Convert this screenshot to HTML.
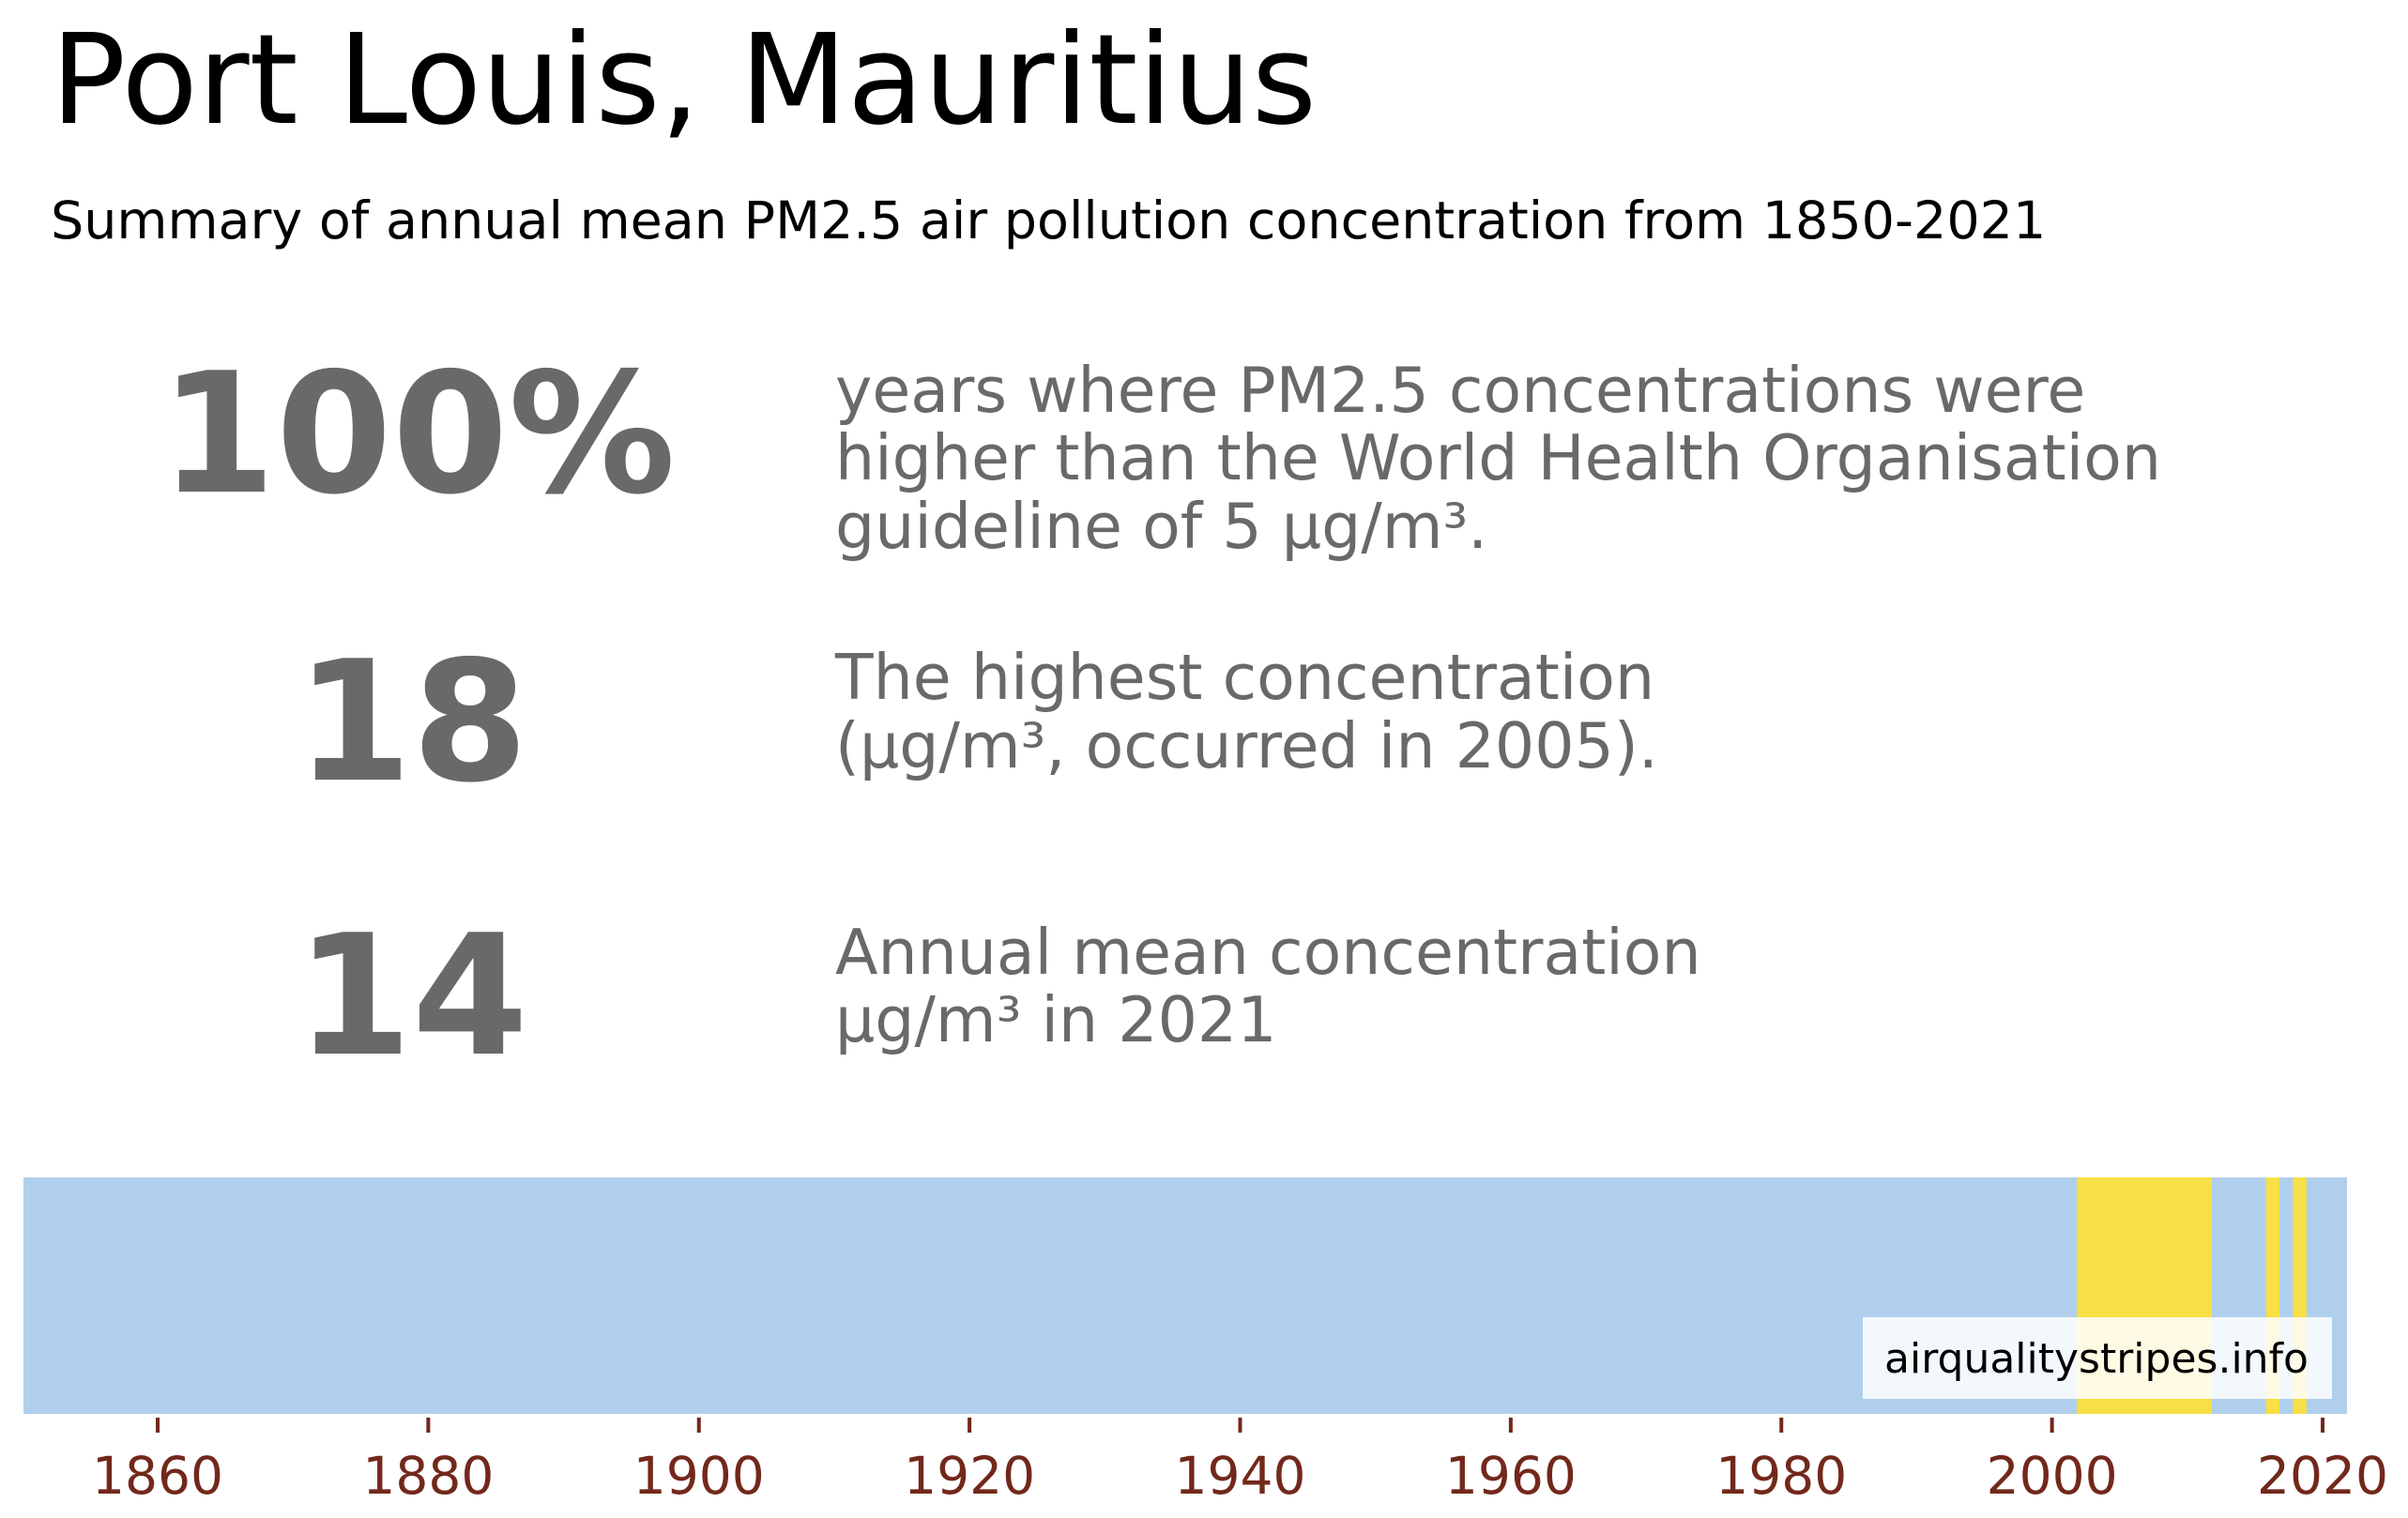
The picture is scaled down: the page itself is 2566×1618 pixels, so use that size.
<!DOCTYPE html>
<html><head><meta charset="utf-8"><style>
html,body{margin:0;padding:0;background:#fff;}
svg{display:block;font-family:"DejaVu Sans","Liberation Sans",sans-serif;}
</style></head><body>
<svg id="chart" width="2566" height="1618" viewBox="0 0 2566 1618">
<text x="54" y="131" font-size="133" fill="#000">Port Louis, Mauritius</text>
<text x="54" y="254" font-size="55.5" fill="#000">Summary of annual mean PM2.5 air pollution concentration from 1850-2021</text>
<g fill="#696969" font-weight="bold" font-size="178" text-anchor="middle">
<text x="445" y="524">100%</text>
<text x="439" y="831">18</text>
<text x="439" y="1123">14</text>
</g>
<g fill="#696969" font-size="66.5">
<text x="890" y="439">years where PM2.5 concentrations were</text>
<text x="890" y="511">higher than the World Health Organisation</text>
<text x="890" y="584">guideline of 5 µg/m³.</text>
<text x="890" y="745">The highest concentration</text>
<text x="890" y="818">(µg/m³, occurred in 2005).</text>
<text x="890" y="1038">Annual mean concentration</text>
<text x="890" y="1110">µg/m³ in 2021</text>
</g>
<g id="stripes"></g>
<g id="ticks"></g>
<rect x="1985" y="1404" width="500" height="87" fill="#fff" fill-opacity="0.85"/>
<text x="2234" y="1463" font-size="44" fill="#000" text-anchor="middle">airqualitystripes.info</text>
</svg>
<script>
const startYear = 1850;
const endYear = 2021;
const yellowYears = [2002,2003,2004,2005,2006,2007,2008,2009,2010,2011,2016,2018];
const yellowValues = [16,16,17,18,17,17,16,16,16,15,15,15];
const baseValue = 13;
const tickYears = [1860,1880,1900,1920,1940,1960,1980,2000,2020];
const NS = "http://www.w3.org/2000/svg";
const stripeX0 = 25, stripeX1 = 2501, stripeTop = 1255, stripeBottom = 1507;
const nYears = endYear - startYear + 1;
const stripeW = (stripeX1 - stripeX0) / nYears;
function xPos(yr){ return stripeX0 + (yr - startYear) * stripeW; }
function colorFor(v){ return v >= 15 ? "#f7df45" : "#b0cfed"; }
const sg = document.getElementById("stripes");
for (let yr = startYear; yr <= endYear; yr++) {
  const k = yellowYears.indexOf(yr);
  const v = k >= 0 ? yellowValues[k] : baseValue;
  const r = document.createElementNS(NS, "rect");
  r.setAttribute("x", xPos(yr));
  r.setAttribute("y", stripeTop);
  r.setAttribute("width", yr === endYear ? stripeW : stripeW + 0.6);
  r.setAttribute("height", stripeBottom - stripeTop);
  r.setAttribute("fill", colorFor(v));
  
  
  sg.appendChild(r);
}
const tg = document.getElementById("ticks");
tickYears.forEach(t => {
  const cx = 168 + (t - 1860) * (2475 - 168) / 160;
  const l = document.createElementNS(NS, "line");
  l.setAttribute("x1", cx); l.setAttribute("x2", cx);
  l.setAttribute("y1", 1511); l.setAttribute("y2", 1527);
  l.setAttribute("stroke", "#72281b"); l.setAttribute("stroke-width", 4);
  
  
  tg.appendChild(l);
  const tx = document.createElementNS(NS, "text");
  tx.setAttribute("x", cx); tx.setAttribute("y", 1592);
  tx.setAttribute("font-size", "55"); tx.setAttribute("fill", "#72281b");
  tx.setAttribute("text-anchor", "middle");
  tx.textContent = t;
  
  
  tg.appendChild(tx);
});
</script>
</body></html>
